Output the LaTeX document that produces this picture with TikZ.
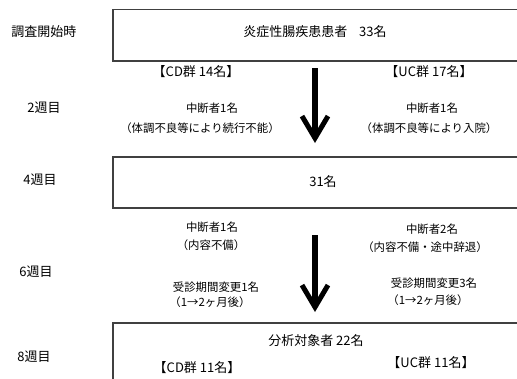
\documentclass[tikz,border=0pt]{standalone}
\usepackage{fontspec}
\setmainfont{Noto Sans CJK JP}
\usetikzlibrary{arrows.meta}
\begin{document}
\begin{tikzpicture}[x=1pt,y=-1pt,
  big/.style={inner sep=0pt, font=\fontsize{13}{15}\selectfont},
  grp/.style={inner sep=0pt, font=\fontsize{13}{15}\selectfont},
  small/.style={inner sep=0pt, font=\fontsize{11.4}{13}\selectfont},
  boxline/.style={draw=black!75, line width=1.3pt},
  flow/.style={line width=5.5pt, -{Straight Barb[length=22pt,width=26pt,line width=5pt]}}]
\useasboundingbox (0,0) rectangle (517,378);
\clip (0,0) rectangle (517,378);
% boxes
\draw[boxline] (113,9.5) rectangle (540,61);
\draw[boxline] (113,157) rectangle (540,208);
\draw[boxline] (113,323) rectangle (540,400);
% time labels
\node[big] (t0) at (44,32) {調査開始時};
\node[big] (t2) at (44,108) {2週目};
\node[big] (t4) at (40,180) {4週目};
\node[big] (t6) at (36,272) {6週目};
\node[big] (t8) at (34,357) {8週目};
% box texts
\node[big] (all) at (315,32) {炎症性腸疾患患者\hspace{0.9em}33名};
\node[big] (n31) at (323,182) {31名};
\node[big] (ana) at (316,341) {分析対象者 22名};
% groups
\node[grp] (cd14) at (196,72) {【CD群 14名】};
\node[grp] (uc17) at (429,72) {【UC群 17名】};
\node[grp] (cd11) at (197,368) {【CD群 11名】};
\node[grp] (uc11) at (431,363) {【UC群 11名】};
% week 2
\node[small] (dl2) at (212,108) {中断者1名};
\node[small] (pl2) at (200,128) {（体調不良等により続行不能）};
\node[small] (dr2) at (432,108) {中断者1名};
\node[small] (pr2) at (429,128) {（体調不良等により入院）};
% week 6
\node[small] (dl6) at (212,227) {中断者1名};
\node[small] (pl6) at (211,245) {（内容不備）};
\node[small] (cl6) at (216,287) {受診期間変更1名};
\node[small] (ql6) at (210,302) {（1→2ヶ月後）};
\node[small] (dr6) at (432,229) {中断者2名};
\node[small] (pr6) at (425,247) {（内容不備・途中辞退）};
\node[small] (cr6) at (434,283) {受診期間変更3名};
\node[small] (qr6) at (428,300) {（1→2ヶ月後）};
% arrows
\coordinate (a1s) at (315,68);
\coordinate (a1e) at (315,143);
\coordinate (a2s) at (315,235);
\coordinate (a2e) at (315,312);
\draw[flow] (a1s) -- (a1e);
\draw[flow] (a2s) -- (a2e);
\end{tikzpicture}
\end{document}
